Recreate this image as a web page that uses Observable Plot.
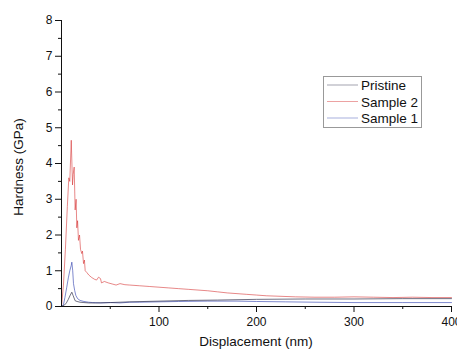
<!DOCTYPE html>
<html>
<head>
<meta charset="utf-8">
<script src="https://cdn.jsdelivr.net/npm/d3@7"></script>
<script src="https://cdn.jsdelivr.net/npm/@observablehq/plot@0.6"></script>
<style>
  html, body { margin: 0; padding: 0; background: #fff; }
  svg { font-family: "Liberation Sans", Arial, sans-serif; }
</style>
</head>
<body>
<div id="chart"></div>
<script>
// Series names (legend order)
const seriesNames = ["Pristine", "Sample 2", "Sample 1"];
const seriesColors = ["#2b2b45", "#d42a2a", "#3545b0"];

// Displacement (nm) / Hardness (GPa)
const sample2X = [0, 2, 4, 6, 7.5, 8.5, 10, 11.3, 12, 13, 14, 15, 15.7, 16.5, 17.4, 18.5, 19.5, 20.8, 21.5, 22.6, 23.5, 24.3, 26, 28, 31, 34, 36, 38, 40, 41, 44, 48, 52, 56, 60, 65, 70, 80, 90, 100, 110, 120, 130, 140, 150, 160, 170, 180, 190, 200, 210, 220, 240, 260, 280, 300, 320, 340, 360, 380, 400];
const sample2Y = [0, 0.6, 1.6, 2.8, 3.6, 3.5, 4.65, 3.4, 3.7, 3.9, 2.7, 3.0, 2.2, 2.4, 1.85, 2.0, 1.6, 1.48, 1.55, 1.2, 1.3, 1.0, 0.95, 0.88, 0.81, 0.76, 0.74, 0.82, 0.78, 0.66, 0.7, 0.66, 0.63, 0.6, 0.64, 0.61, 0.6, 0.58, 0.56, 0.54, 0.52, 0.5, 0.48, 0.46, 0.44, 0.41, 0.38, 0.36, 0.34, 0.32, 0.3, 0.29, 0.27, 0.26, 0.26, 0.27, 0.26, 0.25, 0.26, 0.25, 0.25];

const sample1X = [0, 2, 3.5, 5.4, 7, 8.5, 10, 10.6, 11.5, 12.3, 13.5, 14.7, 16.5, 19, 23, 27.7, 32, 40, 50, 60, 70, 80, 100, 120, 150, 180, 200, 230, 260, 300, 350, 400];
const sample1Y = [0, 0.05, 0.25, 0.54, 0.8, 1.0, 1.15, 1.24, 1.0, 0.64, 0.45, 0.31, 0.22, 0.17, 0.14, 0.12, 0.11, 0.1, 0.11, 0.1, 0.12, 0.12, 0.13, 0.14, 0.15, 0.15, 0.14, 0.13, 0.12, 0.11, 0.11, 0.11];

const pristineX = [0, 3, 5, 7, 9, 10.6, 12, 14, 16, 19, 23, 28, 35, 50, 70, 100, 130, 160, 200, 250, 300, 350, 400];
const pristineY = [0, 0.04, 0.1, 0.2, 0.32, 0.4, 0.3, 0.16, 0.14, 0.12, 0.11, 0.1, 0.1, 0.11, 0.13, 0.15, 0.17, 0.18, 0.2, 0.21, 0.21, 0.22, 0.22];

// Axis ticks
const xMajorTicks = [100, 200, 300, 400];
const xMinorTicks = [50, 150, 250, 350];
const yMajorTicks = [0, 1, 2, 3, 4, 5, 6, 7, 8];
const yMinorTicks = [0.5, 1.5, 2.5, 3.5, 4.5, 5.5, 6.5, 7.5];

const rows = [];
seriesNames.forEach((name) => {
  const xs = name === "Pristine" ? pristineX : name === "Sample 2" ? sample2X : sample1X;
  const ys = name === "Pristine" ? pristineY : name === "Sample 2" ? sample2Y : sample1Y;
  xs.forEach((x, i) => rows.push({series: name, x, y: ys[i]}));
});

const drawOrder = ["Sample 2", "Sample 1", "Pristine"];
const opacities = {"Sample 2": 0.7, "Sample 1": 0.8, "Pristine": 0.85};

const svg = Plot.plot({
  width: 457,
  height: 349,
  marginLeft: 61,
  marginRight: 6,
  marginTop: 20,
  marginBottom: 43,
  style: {background: "#fff", fontFamily: "'Liberation Sans', Arial, sans-serif", color: "#111"},
  x: {domain: [0, 400]},
  y: {domain: [0, 8]},
  color: {domain: seriesNames, range: seriesColors},
  marks: [
    ...drawOrder.map(s => Plot.line(rows.filter(d => d.series === s), {
      x: "x", y: "y", stroke: "series", strokeWidth: 0.8, strokeOpacity: opacities[s]
    })),
    Plot.axisY(yMajorTicks, {tickSize: 6, tickPadding: 3, fontSize: 12, label: null, stroke: "#111"}),
    Plot.axisY(yMinorTicks, {tickSize: 3, text: null, label: null, stroke: "#111"}),
    Plot.axisX(xMajorTicks, {tickSize: 6, tickPadding: 5, fontSize: 12, label: null, stroke: "#111"}),
    Plot.axisX(xMinorTicks, {tickSize: 3, text: null, label: null, stroke: "#111"}),
    Plot.ruleX([0], {stroke: "#111", strokeWidth: 1}),
    Plot.ruleY([0], {stroke: "#111", strokeWidth: 1})
  ]
});

const s = d3.select(svg);
// Axis titles
s.append("text")
  .attr("x", 256).attr("y", 346)
  .attr("text-anchor", "middle")
  .attr("font-size", 13.5)
  .attr("fill", "#111")
  .text("Displacement (nm)");
s.append("text")
  .attr("transform", "translate(23,167) rotate(-90)")
  .attr("text-anchor", "middle")
  .attr("font-size", 13.5)
  .attr("fill", "#111")
  .text("Hardness (GPa)");

// Legend
const lg = s.append("g");
lg.append("rect")
  .attr("x", 323.5).attr("y", 76.5).attr("width", 98).attr("height", 51)
  .attr("fill", "#fff").attr("stroke", "#999").attr("stroke-width", 1);
seriesNames.forEach((name, i) => {
  const cy = 85 + i * 16.5;
  lg.append("line")
    .attr("x1", 327).attr("x2", 358).attr("y1", cy).attr("y2", cy)
    .attr("stroke", seriesColors[i]).attr("stroke-width", 0.8).attr("stroke-opacity", 0.55);
  lg.append("text")
    .attr("x", 361).attr("y", cy + 5)
    .attr("text-anchor", "start")
    .attr("font-size", 13.5).attr("fill", "#111")
    .text(name);
});

document.getElementById("chart").appendChild(svg);
</script>
</body>
</html>
